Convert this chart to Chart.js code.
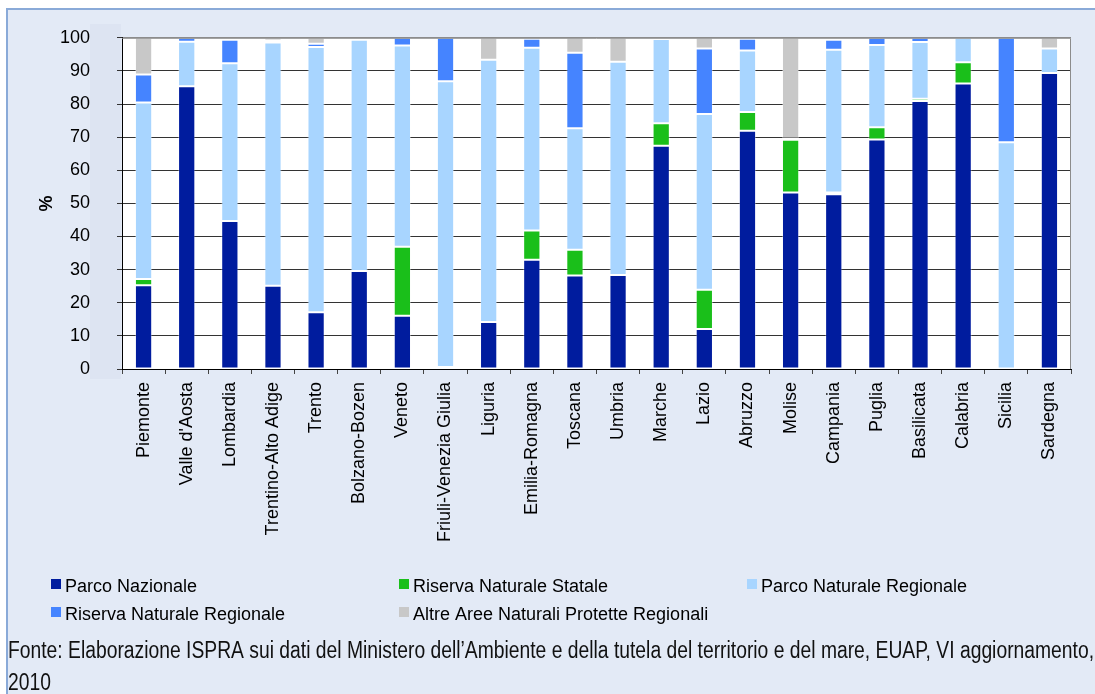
<!DOCTYPE html>
<html>
<head>
<meta charset="utf-8">
<script src="https://cdn.jsdelivr.net/npm/chart.js@4/dist/chart.umd.min.js"></script>
<style>
  html, body { margin: 0; padding: 0; background: #fff; }
  #wrap { width: 1095px; height: 694px; }
</style>
</head>
<body>
<div id="wrap"><canvas id="aree" width="1095" height="694"></canvas></div>
<script>
const regioni = ["Piemonte", "Valle d'Aosta", "Lombardia", "Trentino-Alto Adige", "Trento",
    "Bolzano-Bozen", "Veneto", "Friuli-Venezia Giulia", "Liguria", "Emilia-Romagna", "Toscana",
    "Umbria", "Marche", "Lazio", "Abruzzo", "Molise", "Campania", "Puglia", "Basilicata",
    "Calabria", "Sicilia", "Sardegna"];

// quota percentuale della superficie protetta per tipologia
const parcoNazionale   = [25.3, 85.4, 44.7, 25.1, 17.1, 29.6, 16.1, 0, 14.2, 33.0, 28.2, 28.4, 67.4, 12.1, 71.9, 53.3, 52.8, 69.3, 80.9, 86.2, 0, 89.4];
const riservaStatale   = [1.9, 0, 0, 0, 0, 0, 20.8, 0.6, 0, 8.8, 7.8, 0, 6.8, 11.8, 5.7, 15.9, 0.5, 3.7, 0.7, 6.4, 0, 0];
const parcoRegionale   = [53.3, 13.4, 47.6, 73.5, 80.1, 69.8, 60.8, 86.3, 79.2, 55.2, 36.7, 64.4, 25.4, 53.1, 18.6, 0, 43.1, 24.8, 17.1, 7.4, 68.5, 7.4];
const riservaRegionale = [8.4, 1.2, 7.1, 0.6, 1.0, 0.6, 2.3, 13.1, 0, 2.7, 22.8, 0, 0.4, 19.8, 3.5, 0.5, 3.0, 2.2, 1.3, 0, 31.5, 0];
const altreAree        = [11.1, 0, 0.6, 0.8, 1.8, 0, 0, 0, 6.6, 0.3, 4.5, 7.2, 0, 3.2, 0.3, 30.3, 0.6, 0, 0, 0, 0, 3.2];

const yTicks = [0, 10, 20, 30, 40, 50, 60, 70, 80, 90, 100];

const fonte = "Fonte: Elaborazione ISPRA sui dati del Ministero dell\u2019Ambiente e della tutela del territorio e del mare, EUAP, VI aggiornamento,";
const fonteAnno = "2010";

const FONT = '"Liberation Sans", Arial, sans-serif';

// sfondo del pannello e area del grafico
const pannello = {
    id: "pannello",
    beforeDraw(chart) {
        const { ctx, chartArea: a } = chart;
        ctx.save();
        ctx.fillStyle = "#ffffff";
        ctx.fillRect(0, 0, chart.width, chart.height);
        ctx.fillStyle = "#e3eaf6";
        ctx.fillRect(7, 9, chart.width, chart.height);
        ctx.strokeStyle = "#8aaad8";
        ctx.lineWidth = 2;
        ctx.beginPath();
        ctx.moveTo(7, chart.height);
        ctx.lineTo(7, 9);
        ctx.lineTo(chart.width, 9);
        ctx.stroke();
        ctx.fillStyle = "#dde4f2";
        ctx.fillRect(90, 24, 31, 355);
        ctx.fillStyle = "#ffffff";
        ctx.fillRect(a.left, a.top, a.right - a.left, a.bottom - a.top);
        ctx.restore();
    },
    afterDatasetsDraw(chart) {
        const { ctx, chartArea: a } = chart;
        ctx.save();
        ctx.strokeStyle = "#8c8c8c";
        ctx.lineWidth = 1;
        ctx.beginPath();
        ctx.moveTo(a.left, a.top + 0.5);
        ctx.lineTo(a.right - 0.5, a.top + 0.5);
        ctx.lineTo(a.right - 0.5, a.bottom);
        ctx.stroke();
        ctx.restore();
    }
};

// legenda su tre colonne e nota sulla fonte
const legendaFonte = {
    id: "legendaFonte",
    afterDraw(chart) {
        const { ctx } = chart;
        const ds = chart.data.datasets;
        const colX = [51, 399, 747];
        const rowY = [579, 607];
        ctx.save();
        ctx.font = "18px " + FONT;
        ctx.textBaseline = "alphabetic";
        ds.forEach((d, i) => {
            const x = colX[i % 3];
            const y = rowY[Math.floor(i / 3)];
            ctx.fillStyle = d.backgroundColor;
            ctx.fillRect(x, y, 10, 10);
            ctx.fillStyle = "#000";
            ctx.fillText(d.label, x + 14, y + 13);
        });

        ctx.font = "23px " + FONT;
        const x0 = 8;
        const w = ctx.measureText(fonte).width;
        const sx = (1094 - x0) / w;
        ctx.fillStyle = "#111";
        ctx.setTransform(sx, 0, 0, 1, x0, 0);
        ctx.fillText(fonte, 0, 658);
        ctx.fillText(fonteAnno, 0, 690);
        ctx.restore();
    }
};

const dataset = (label, data, color) => ({
    label,
    data,
    backgroundColor: color,
    borderColor: "rgba(255,255,255,0.35)",
    borderWidth: 1,
    borderSkipped: false
});

new Chart(document.getElementById("aree"), {
    type: "bar",
    data: {
        labels: regioni,
        datasets: [
            dataset("Parco Nazionale", parcoNazionale, "#001c9e"),
            dataset("Riserva Naturale Statale", riservaStatale, "#1abf1a"),
            dataset("Parco Naturale Regionale", parcoRegionale, "#a8d5ff"),
            dataset("Riserva Naturale Regionale", riservaRegionale, "#4584ff"),
            dataset("Altre Aree Naturali Protette Regionali", altreAree, "#c8c8c8")
        ]
    },
    options: {
        responsive: false,
        animation: false,
        layout: { padding: { left: 0, top: 35, right: 24, bottom: 0 } },
        categoryPercentage: 1,
        barPercentage: 0.4,
        plugins: {
            legend: { display: false },
            tooltip: { enabled: false }
        },
        scales: {
            x: {
                stacked: true,
                afterFit(scale) { scale.height = 325; },
                grid: {
                    drawOnChartArea: false,
                    drawTicks: true,
                    tickLength: 5,
                    color: "#444"
                },
                border: { color: "#000", width: 1 },
                ticks: {
                    autoSkip: false,
                    maxRotation: 90,
                    minRotation: 90,
                    padding: 8,
                    color: "#000",
                    font: { family: FONT, size: 18 }
                }
            },
            y: {
                stacked: true,
                min: 0,
                max: 100,
                afterFit(scale) { scale.width = 122; },
                afterBuildTicks(scale) { scale.ticks = yTicks.map(v => ({ value: v })); },
                grid: {
                    color: c => (c.tick && c.tick.value === 100 ? "#8c8c8c" : "#333"),
                    tickLength: 5,
                    tickColor: "#333"
                },
                border: { color: "#000", width: 1 },
                ticks: {
                    padding: 27,
                    color: "#000",
                    font: { family: FONT, size: 18 }
                },
                title: {
                    display: true,
                    text: "%",
                    color: "#000",
                    font: { family: FONT, size: 18, weight: "bold" },
                    padding: { top: 36, bottom: 0 }
                }
            }
        }
    },
    plugins: [pannello, legendaFonte]
});
</script>
</body>
</html>
